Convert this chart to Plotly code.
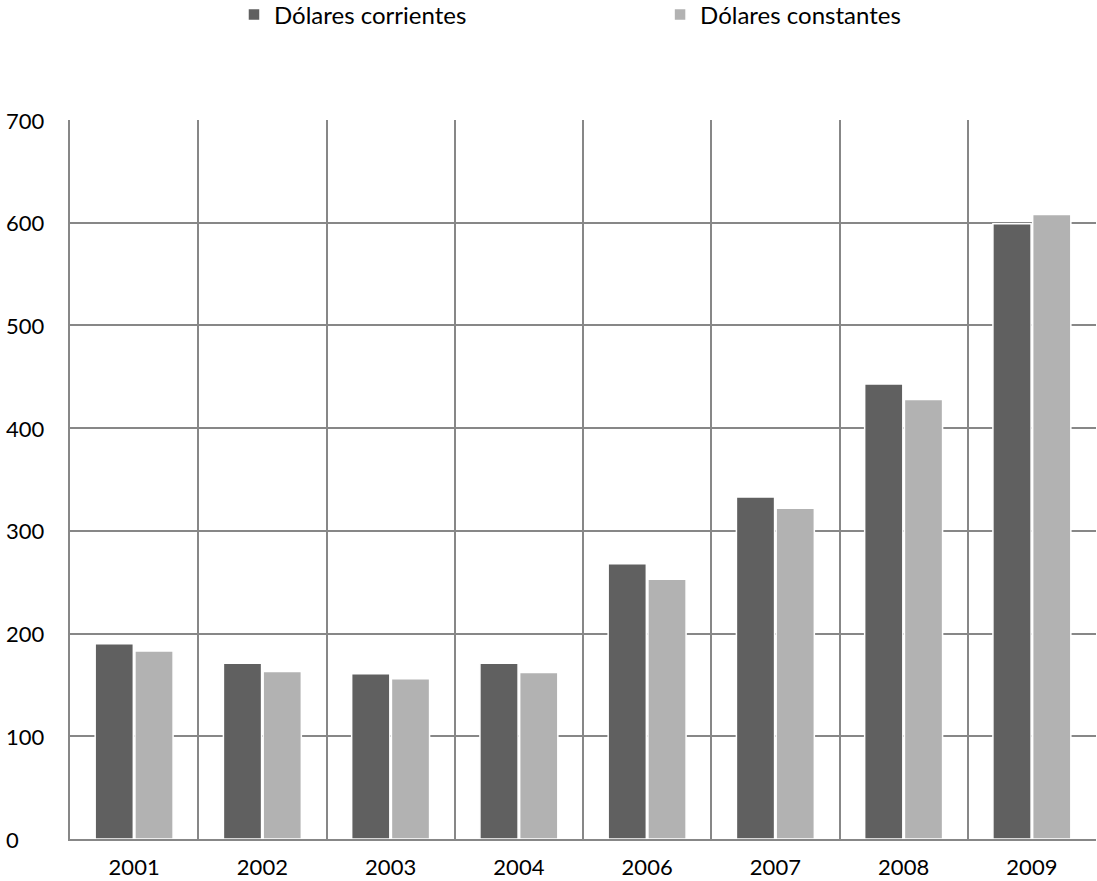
import plotly.graph_objects as go

years = ["2001", "2002", "2003", "2004", "2006", "2007", "2008", "2009"]
corrientes = [190, 171, 161, 171, 268, 333, 443, 599]
constantes = [183, 163, 156, 162, 253, 322, 428, 608]
y_ticks = [0, 100, 200, 300, 400, 500, 600, 700]

FONT = "Lato, 'Open Sans', sans-serif"
FSIZE = 22
GRID = "#878787"

fig = go.Figure()
fig.add_trace(go.Bar(
    x=years, y=corrientes, name="Dólares corrientes", legend="legend",
    marker=dict(color="#606060", line=dict(color="white", width=1.5)),
))
fig.add_trace(go.Bar(
    x=years, y=constantes, name="Dólares constantes", legend="legend2",
    marker=dict(color="#b2b2b2", line=dict(color="white", width=1.5)),
))

# y tick labels, left-aligned at the page edge
for v in y_ticks:
    fig.add_annotation(
        x=0, xref="paper", xshift=-66, y=v, yref="y",
        text=str(v), showarrow=False, xanchor="left", yanchor="middle",
        font=dict(family=FONT, size=FSIZE, color="black"),
    )

legend_style = dict(
    orientation="h", xref="container", yref="container",
    y=0.983, xanchor="left", yanchor="middle",
    font=dict(family=FONT, size=24, color="black"),
    itemwidth=30, bgcolor="rgba(0,0,0,0)",
)

fig.update_layout(
    width=1097, height=881,
    margin=dict(l=70, r=1, t=120, b=40),
    paper_bgcolor="white", plot_bgcolor="white",
    barmode="group", bargap=0.38, bargroupgap=0.04,
    font=dict(family=FONT, size=FSIZE, color="black"),
    showlegend=True,
    legend=dict(x=0.2133, **legend_style),
    legend2=dict(x=0.6017, **legend_style),
    xaxis=dict(
        type="category", range=[-0.5, 7.5],
        tickson="boundaries", showgrid=True, gridcolor=GRID, gridwidth=1.5,
        showline=True, linecolor=GRID, linewidth=1.5,
        ticks="", ticklabelstandoff=8,
        tickfont=dict(family=FONT, size=FSIZE, color="black"),
    ),
    yaxis=dict(
        range=[0, 700], tickvals=y_ticks, showticklabels=False,
        showgrid=True, gridcolor=GRID, gridwidth=1.5,
        showline=True, linecolor=GRID, linewidth=1.5,
        zeroline=False, ticks="",
    ),
)

fig.write_html("out.html")
